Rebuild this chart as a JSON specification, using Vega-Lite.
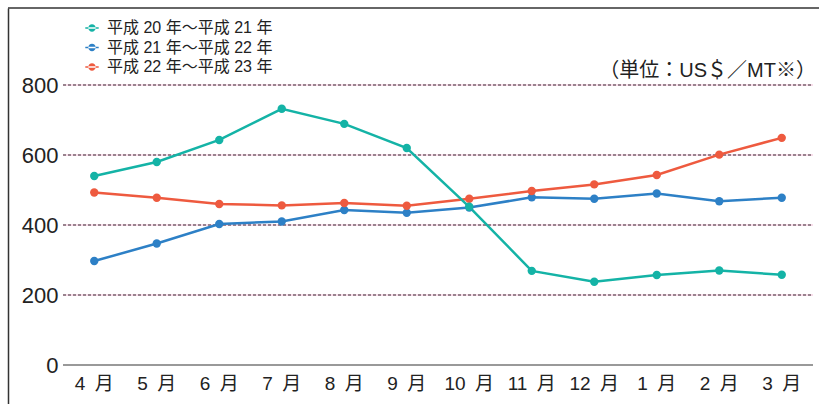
{
  "$schema": "https://vega.github.io/schema/vega-lite/v6.json",
  "width": 811,
  "height": 396,
  "autosize": {"type": "none"},
  "padding": {"left": 8, "top": 8, "right": 0, "bottom": 0},
  "background": "white",
  "config": {
    "view": {"stroke": null},
    "font": "Liberation Sans, Noto Sans CJK JP"
  },
  "title": {
    "text": "（単位：US＄／MT※）",
    "anchor": "end",
    "frame": "group",
    "orient": "top",
    "offset": -74,
    "dx": -3,
    "fontSize": 20,
    "fontWeight": "normal",
    "color": "#222",
    "font": "Liberation Sans, Noto Sans CJK JP"
  },
  "encoding": {
    "y": {
      "field": "value",
      "type": "quantitative",
      "scale": {"domain": [-111.4, 1020], "nice": false, "zero": false},
      "axis": {
        "values": [0, 200, 400, 600, 800],
        "grid": false,
        "ticks": false,
        "domain": true,
        "domainColor": "#333",
        "domainWidth": 1.5,
        "labelPadding": -50,
        "labelFontSize": 22,
        "labelColor": "#222",
        "title": null
      }
    }
  },
  "layer": [
    {
      "data": {"values": [{"value": 1020}]},
      "mark": {"type": "rule", "stroke": "#333", "strokeWidth": 1.5},
      "encoding": {}
    },
    {
      "layer": [
        {
          "data": {"values": [{"value": 200}, {"value": 400}, {"value": 600}, {"value": 800}]},
          "mark": {"type": "rule", "stroke": "#f2bcd6", "strokeWidth": 1.2},
          "encoding": {
            "x": {"datum": 0, "type": "quantitative", "scale": {"domain": [0, 1], "range": [55, 805]}, "axis": null},
            "x2": {"datum": 1}
          }
        },
        {
          "data": {"values": [{"value": 200}, {"value": 400}, {"value": 600}, {"value": 800}]},
          "mark": {"type": "rule", "stroke": "#3a2a33", "strokeWidth": 1.2, "strokeDash": [3, 2]},
          "encoding": {
            "x": {"datum": 0, "type": "quantitative", "scale": {"domain": [0, 1], "range": [55, 805]}, "axis": null},
            "x2": {"datum": 1}
          }
        },
        {
          "data": {"values": [{"value": 0}]},
          "mark": {"type": "rule", "stroke": "#777", "strokeWidth": 1.5},
          "encoding": {
            "x": {"datum": 0, "type": "quantitative", "scale": {"domain": [0, 1], "range": [55, 805]}, "axis": null},
            "x2": {"datum": 1}
          }
        }
      ]
    },
    {
      "data": {
        "values": [
          {"month": "4 月", "series": "平成 21 年〜平成 22 年", "value": 297},
          {"month": "5 月", "series": "平成 21 年〜平成 22 年", "value": 347},
          {"month": "6 月", "series": "平成 21 年〜平成 22 年", "value": 403},
          {"month": "7 月", "series": "平成 21 年〜平成 22 年", "value": 410},
          {"month": "8 月", "series": "平成 21 年〜平成 22 年", "value": 443},
          {"month": "9 月", "series": "平成 21 年〜平成 22 年", "value": 435},
          {"month": "10 月", "series": "平成 21 年〜平成 22 年", "value": 450},
          {"month": "11 月", "series": "平成 21 年〜平成 22 年", "value": 479},
          {"month": "12 月", "series": "平成 21 年〜平成 22 年", "value": 475},
          {"month": "1 月", "series": "平成 21 年〜平成 22 年", "value": 490},
          {"month": "2 月", "series": "平成 21 年〜平成 22 年", "value": 468},
          {"month": "3 月", "series": "平成 21 年〜平成 22 年", "value": 478},
          {"month": "4 月", "series": "平成 22 年〜平成 23 年", "value": 493},
          {"month": "5 月", "series": "平成 22 年〜平成 23 年", "value": 478},
          {"month": "6 月", "series": "平成 22 年〜平成 23 年", "value": 460},
          {"month": "7 月", "series": "平成 22 年〜平成 23 年", "value": 456},
          {"month": "8 月", "series": "平成 22 年〜平成 23 年", "value": 463},
          {"month": "9 月", "series": "平成 22 年〜平成 23 年", "value": 455},
          {"month": "10 月", "series": "平成 22 年〜平成 23 年", "value": 475},
          {"month": "11 月", "series": "平成 22 年〜平成 23 年", "value": 497},
          {"month": "12 月", "series": "平成 22 年〜平成 23 年", "value": 516},
          {"month": "1 月", "series": "平成 22 年〜平成 23 年", "value": 543},
          {"month": "2 月", "series": "平成 22 年〜平成 23 年", "value": 601},
          {"month": "3 月", "series": "平成 22 年〜平成 23 年", "value": 649},
          {"month": "4 月", "series": "平成 20 年〜平成 21 年", "value": 540},
          {"month": "5 月", "series": "平成 20 年〜平成 21 年", "value": 580},
          {"month": "6 月", "series": "平成 20 年〜平成 21 年", "value": 643},
          {"month": "7 月", "series": "平成 20 年〜平成 21 年", "value": 732},
          {"month": "8 月", "series": "平成 20 年〜平成 21 年", "value": 689},
          {"month": "9 月", "series": "平成 20 年〜平成 21 年", "value": 620},
          {"month": "10 月", "series": "平成 20 年〜平成 21 年", "value": 452},
          {"month": "11 月", "series": "平成 20 年〜平成 21 年", "value": 269},
          {"month": "12 月", "series": "平成 20 年〜平成 21 年", "value": 238},
          {"month": "1 月", "series": "平成 20 年〜平成 21 年", "value": 257},
          {"month": "2 月", "series": "平成 20 年〜平成 21 年", "value": 270},
          {"month": "3 月", "series": "平成 20 年〜平成 21 年", "value": 258}
        ]
      },
      "encoding": {
        "x": {
          "field": "month",
          "type": "nominal",
          "sort": null,
          "scale": {"type": "band", "range": [55, 805], "paddingInner": 0, "paddingOuter": 0},
          "axis": {
            "orient": "bottom",
            "domain": false,
            "ticks": false,
            "labelPadding": -30,
            "labelBaseline": "top",
            "labelFontSize": 19,
            "labelColor": "#222",
            "labelAngle": 0,
            "labelExpr": "replace(datum.label, ' ', '\u2002')",
            "title": null
          }
        },
        "color": {
          "field": "series",
          "type": "nominal",
          "scale": {
            "domain": ["平成 20 年〜平成 21 年", "平成 21 年〜平成 22 年", "平成 22 年〜平成 23 年"],
            "range": ["#14b3a6", "#2d80c6", "#ee5a3f"]
          },
          "legend": {
            "title": null,
            "orient": "none",
            "legendX": 76,
            "legendY": 12,
            "labelFontSize": 16,
            "labelLimit": 400,
            "labelColor": "#222",
            "rowPadding": 3.5,
            "labelOffset": 7,
            "symbolSize": 180,
            "symbolStrokeWidth": 0,
            "symbolType": "M-1,-0.13H1V0.13H-1Z M-0.55,0A0.55,0.55 0 1,0 0.55,0A0.55,0.55 0 1,0 -0.55,0Z"
          }
        }
      },
      "layer": [
        {"mark": {"type": "line", "strokeWidth": 2.5}},
        {"mark": {"type": "point", "filled": true, "size": 70, "opacity": 1}}
      ]
    }
  ],
  "resolve": {"scale": {"x": "independent"}}
}
